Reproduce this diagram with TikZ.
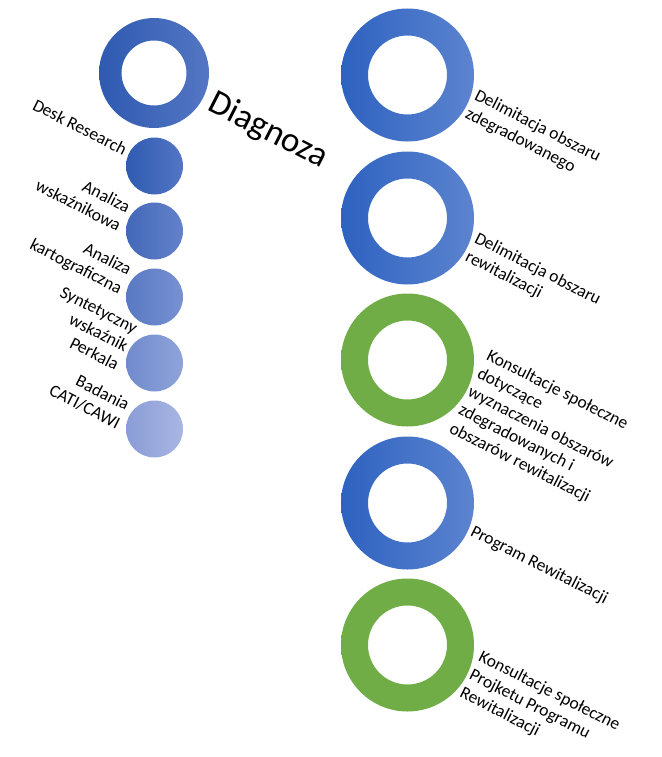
\documentclass[tikz,border=0pt]{standalone}
\usepackage{fontspec}
\setmainfont{Carlito}
\definecolor{ringL}{RGB}{46,98,192}
\definecolor{ringR}{RGB}{92,132,207}
\definecolor{dgL}{RGB}{46,90,176}
\definecolor{dgR}{RGB}{84,118,196}
\definecolor{grn}{RGB}{112,173,71}
\definecolor{c1L}{RGB}{47,91,177}\definecolor{c1R}{RGB}{84,117,196}
\definecolor{c2L}{RGB}{66,104,185}\definecolor{c2R}{RGB}{100,130,202}
\definecolor{c3L}{RGB}{88,121,195}\definecolor{c3R}{RGB}{120,145,209}
\definecolor{c4L}{RGB}{112,138,205}\definecolor{c4R}{RGB}{143,164,217}
\definecolor{c5L}{RGB}{138,156,214}\definecolor{c5R}{RGB}{168,182,226}
\tikzset{
  rlabel/.style={rotate=-27, inner sep=0pt, align=left, anchor=north west, font=\fontsize{17.5}{20.5}\selectfont},
  llabel/.style={rotate=-27, inner sep=0pt, align=right, anchor=south east, font=\fontsize{17.5}{20.5}\selectfont},
}
\begin{document}
\begin{tikzpicture}[x=1pt,y=-1pt]
\useasboundingbox (0,0) rectangle (661,757);
% Diagnoza ring
\coordinate (dg) at (154,73);
\shade[left color=dgL, right color=dgR, even odd rule] (dg) circle (55) (dg) circle (32.5);
\node[rotate=-27, inner sep=0pt, anchor=north west, font=\fontsize{35}{42}\selectfont] (dgt) at (217,88) {Diagnoza};
% small circles
\foreach \i/\y in {1/166,2/231,3/297,4/363,5/429}{
  \coordinate (s\i) at (154.5,\y);
  \shade[left color=c\i L, right color=c\i R] (s\i) circle (28.5);
}
\node[llabel] (l1) at (123,156) {Desk Research};
\node[llabel] (l2) at (117,232) {Analiza\\wskaźnikowa};
\node[llabel] (l3) at (117,297) {Analiza\\kartograficzna};
\node[llabel] (l4) at (115,371) {Syntetyczny\\wskaźnik\\Perkala};
\node[llabel] (l5) at (116,430) {Badania\\CATI/CAWI};
% right rings
\foreach \i/\y/\ca/\cb in {1/75/ringL/ringR,2/218/ringL/ringR,3/360/grn/grn,4/503/ringL/ringR,5/645/grn/grn}{
  \coordinate (r\i) at (407.5,\y);
  \shade[left color=\ca, right color=\cb, even odd rule] (r\i) circle (66.5) (r\i) circle (39.5);
}
\node[rlabel] (t1) at (479,88) {Delimitacja obszaru\\zdegradowanego};
\node[rlabel] (t2) at (479,231) {Delimitacja obszaru\\rewitalizacji};
\node[rlabel] (t3) at (491,348) {Konsultacje społeczne\\dotyczące\\wyznaczenia obszarów\\zdegradowanych i\\obszarów rewitalizacji};
\node[rlabel] (t4) at (475,524) {Program Rewitalizacji};
\node[rlabel] (t5) at (483,649) {Konsultacje społeczne\\Projketu Programu\\Rewitalizacji};
\end{tikzpicture}
\end{document}
